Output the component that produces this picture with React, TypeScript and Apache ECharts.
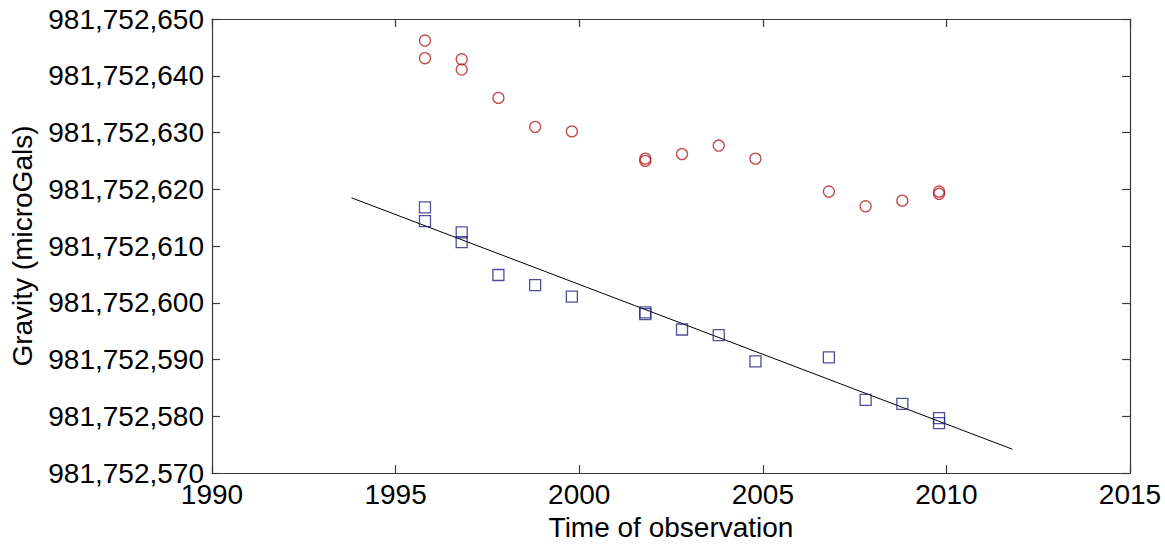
import React, { useEffect, useRef } from "react";
import * as echarts from "echarts";

// Repeat gravity survey at one station (values in microGals)
const stationYears = [
  1995.8, 1995.8, 1996.8, 1996.8, 1997.8, 1998.8, 1999.8, 2001.8, 2001.8,
  2002.8, 2003.8, 2004.8, 2006.8, 2007.8, 2008.8, 2009.8, 2009.8,
];
const redGravity = [
  981752646.2, 981752643.1, 981752642.9, 981752641.1, 981752636.1,
  981752631.0, 981752630.2, 981752625.4, 981752625.0, 981752626.2,
  981752627.7, 981752625.4, 981752619.6, 981752617.0, 981752618.0,
  981752619.2, 981752619.6,
];
const blueGravity = [
  981752616.8, 981752614.4, 981752612.4, 981752610.7, 981752604.9,
  981752603.1, 981752601.1, 981752598.3, 981752598.0, 981752595.3,
  981752594.3, 981752589.7, 981752590.4, 981752582.9, 981752582.2,
  981752579.7, 981752578.8,
];
// Least-squares trend through the blue series
const trendYears = [1993.8, 2011.8];
const trendGravity = [981752618.5, 981752574.2];

const xTicks = { min: 1990, max: 2015, interval: 5 };
const yTicks = { min: 981752570, max: 981752650, interval: 10 };

const FONT = "Arial, 'Liberation Sans', sans-serif";
const FONT_SIZE = 28;
const AXIS_COLOR = "#3a3a3a";

export default function App() {
  const ref = useRef<HTMLDivElement>(null);

  useEffect(() => {
    if (!ref.current) return;
    const chart = echarts.init(ref.current, undefined, { renderer: "svg" });

    const boxAxis = {
      axisLine: { show: true, onZero: false, lineStyle: { color: AXIS_COLOR, width: 1.2 } },
      axisTick: { show: true, inside: true, length: 8, lineStyle: { color: AXIS_COLOR, width: 1.2 } },
      splitLine: { show: false },
    };

    chart.setOption({
      animation: false,
      backgroundColor: "#ffffff",
      grid: { left: 211, right: 35, top: 19, bottom: 69, containLabel: false },
      xAxis: [
        {
          type: "value",
          ...xTicks,
          position: "bottom",
          ...boxAxis,
          name: "Time of observation",
          nameLocation: "middle",
          nameGap: 36,
          nameTextStyle: { color: "#000", fontSize: FONT_SIZE, fontFamily: FONT },
          axisLabel: {
            color: "#000",
            fontSize: FONT_SIZE,
            fontFamily: FONT,
            margin: 7,
            showMinLabel: true,
            showMaxLabel: true,
            formatter: (v: number) => String(v),
          },
        },
        {
          type: "value",
          ...xTicks,
          position: "top",
          ...boxAxis,
          axisLabel: { show: false },
        },
      ],
      yAxis: [
        {
          type: "value",
          ...yTicks,
          position: "left",
          ...boxAxis,
          name: "Gravity (microGals)",
          nameLocation: "middle",
          nameGap: 176,
          nameRotate: 90,
          nameTextStyle: { color: "#000", fontSize: FONT_SIZE, fontFamily: FONT },
          axisLabel: {
            color: "#000",
            fontSize: FONT_SIZE,
            fontFamily: FONT,
            margin: 8,
            showMinLabel: true,
            showMaxLabel: true,
            formatter: (v: number) => Math.round(v).toLocaleString("en-US"),
          },
        },
        {
          type: "value",
          ...yTicks,
          position: "right",
          ...boxAxis,
          axisLabel: { show: false },
        },
      ],
      series: [
        {
          type: "scatter",
          data: stationYears.map((t, i) => [t, redGravity[i]]),
          symbol: "circle",
          symbolSize: 11,
          itemStyle: { color: "transparent", borderColor: "#b41e22", borderWidth: 1.3 },
        },
        {
          type: "scatter",
          data: stationYears.map((t, i) => [t, blueGravity[i]]),
          symbol: "rect",
          symbolSize: 11,
          itemStyle: { color: "transparent", borderColor: "#23237f", borderWidth: 1.3 },
        },
        {
          type: "line",
          data: trendYears.map((t, i) => [t, trendGravity[i]]),
          showSymbol: false,
          symbol: "none",
          lineStyle: { color: "#000", width: 1 },
          z: 1,
        },
      ],
    });

    return () => chart.dispose();
  }, []);

  return (
    <div
      ref={ref}
      style={{ position: "absolute", left: 0, top: 0, width: 1165, height: 546 }}
    />
  );
}
